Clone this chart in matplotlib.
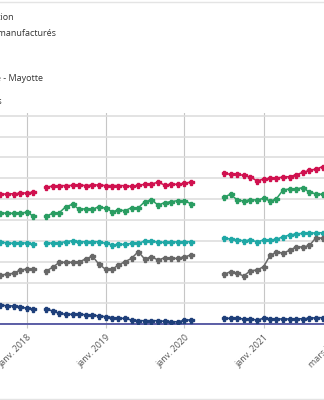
import numpy as np
import pandas as pd
import matplotlib
matplotlib.use("Agg")
import matplotlib.pyplot as plt
from matplotlib.lines import Line2D

plt.rcParams["font.family"] = ["Open Sans", "DejaVu Sans"]

nan = np.nan

# monthly values, Aug 2017 -> Nov 2021 (survey not run in March 2018 and Mar-Jun 2020)
months = pd.date_range("2017-08-01", "2021-11-01", freq="MS")

red = [62.2, 62.3, 62.5, 62.6, 62.8,
       63.0, 63.3, nan, 65.7, 66.3, 66.5, 66.5, 66.6, 66.8, 66.5, 66.8, 66.8,
       66.5, 66.5, 66.5, 66.5, 66.1, 66.6, 67.1, 67.3, 68.1, 66.8, 67.1, 67.1,
       67.6, 68.2, nan, nan, nan, nan, 72.4, 71.9, 71.9, 71.4, 70.6, 68.8,
       69.6, 70.0, 70.1, 70.6, 70.8, 71.7, 72.8, 73.8, 74.4, 75.6, 76.0]
green = [53.4, 53.5, 53.2, 53.2, 53.35,
         53.7, 51.9, nan, 51.9, 53.2, 53.5, 56.4, 57.5, 55.1, 55.4, 55.1, 56.4,
         55.6, 54.0, 54.8, 54.5, 55.9, 55.75, 58.8, 59.6, 57.2, 58.3, 58.8, 59.3,
         59.3, 57.7, nan, nan, nan, nan, 61.0, 62.3, 59.6, 59.1, 59.75, 59.6,
         60.4, 59.1, 60.1, 64.4, 64.9, 64.9, 65.5, 63.3, 62.5, 62.3, 62.5]
teal = [39.3, 39.3, 39.1, 38.8, 39.0,
        39.0, 38.5, nan, 38.8, 39.0, 39.1, 39.6, 40.1, 39.6, 39.6, 39.6, 39.6,
        38.8, 38.0, 38.3, 38.3, 38.8, 38.8, 39.9, 39.9, 39.3, 39.3, 39.3, 39.6,
        39.6, 39.6, nan, nan, nan, nan, 41.2, 40.9, 40.4, 40.1, 40.4, 39.6,
        40.4, 40.4, 40.7, 42.0, 42.8, 43.3, 43.6, 43.6, 43.9, 43.9, 44.0]
grey = [23.5, 23.6, 24.0, 24.45, 26.0,
        26.5, 26.5, nan, 25.55, 27.3, 29.7, 29.7, 29.7, 30.0, 31.3, 32.7, 28.8,
        26.4, 26.4, 28.4, 30.0, 31.6, 34.8, 31.3, 32.4, 30.8, 31.9, 31.6, 31.6,
        32.4, 33.2, nan, nan, nan, nan, 24.0, 25.2, 24.45, 23.15, 25.7, 26.0,
        27.6, 33.2, 34.5, 34.2, 35.4, 37.2, 37.0, 37.8, 41.6, 41.2, 41.5]
navy = [9.4, 9.25, 8.9, 8.8, 8.45,
        7.65, 7.3, nan, 7.3, 6.4, 5.25, 4.8, 4.8, 4.8, 4.6, 4.45, 4.0,
        3.65, 3.2, 2.85, 2.85, 2.05, 1.75, 1.75, 1.75, 1.75, 1.4, 1.25, 1.25,
        1.9, 2.2, nan, nan, nan, nan, 2.85, 2.85, 2.85, 2.55, 2.55, 2.05,
        2.85, 2.7, 2.55, 2.55, 2.55, 2.55, 2.7, 2.85, 3.2, 3.2, 3.2]

labels = ["Alimentation", "Produits manufacturés", "Services", "Énergie",
          "Ensemble - Mayotte"]
series = [red, green, teal, navy, grey]
colors = ["#d0114f", "#2a9d62", "#1fa8a6", "#1e3f7a", "#686868"]

tick_dates = ["2018-01-01", "2019-01-01", "2020-01-01", "2021-01-01", "2021-12-11"]
tick_labels = ["janv. 2018", "janv. 2019", "janv. 2020", "janv. 2021", "mars 2022"]


def main():
    fig = plt.figure(figsize=(3.24, 4.0), dpi=100)
    # plot area runs past both edges of the picture (it is a crop)
    ax = fig.add_axes([-20 / 324, 75.7 / 400, 364 / 324, 211.1 / 400])

    for vals, lab, col in zip(series, labels, colors):
        ax.plot(months, vals, color=col, lw=1.1, marker="P", ms=3.6,
                label=lab, zorder=3)

    ax.set_ylim(0, 101.2)
    ax.set_xlim(pd.Timestamp("2017-05-30"), pd.Timestamp("2022-01-08"))
    ax.set_yticks(np.arange(0, 101, 10))
    ax.set_xticks(pd.to_datetime(tick_dates))
    ax.set_xticklabels(tick_labels, rotation=45, ha="right", va="top",
                       rotation_mode="anchor")
    ax.tick_params(axis="x", length=3, color="#c8c8c8", labelsize=6.4,
                   labelcolor="#555555", pad=3)
    ax.tick_params(axis="y", length=0, labelleft=False)
    ax.grid(axis="y", color="#dedede", lw=1.2)
    ax.grid(axis="x", color="#c6c6c6", lw=0.8)
    ax.set_axisbelow(True)
    for s in ["top", "left", "right"]:
        ax.spines[s].set_visible(False)
    ax.spines["bottom"].set_color("#4f52a0")
    ax.spines["bottom"].set_linewidth(1.3)

    # legend entries (markers sit left of the crop)
    for i, lab in enumerate(labels):
        fig.text(-40 / 324, 1 - (18 + 15.2 * i) / 400, lab, fontsize=6.5,
                 color="#333333", ha="left", va="center")
    fig.text(2 / 324, 1 - 102 / 400, "En euros", fontsize=6.5,
             color="#333333", ha="right", va="center")

    fig.add_artist(Line2D([0, 1], [1 - 2 / 400] * 2, color="#e4e4e4", lw=1))
    fig.add_artist(Line2D([0, 1], [1 - 399 / 400] * 2, color="#e4e4e4", lw=1))

    fig.savefig("out.png", dpi=100)


if __name__ == "__main__":
    main()
